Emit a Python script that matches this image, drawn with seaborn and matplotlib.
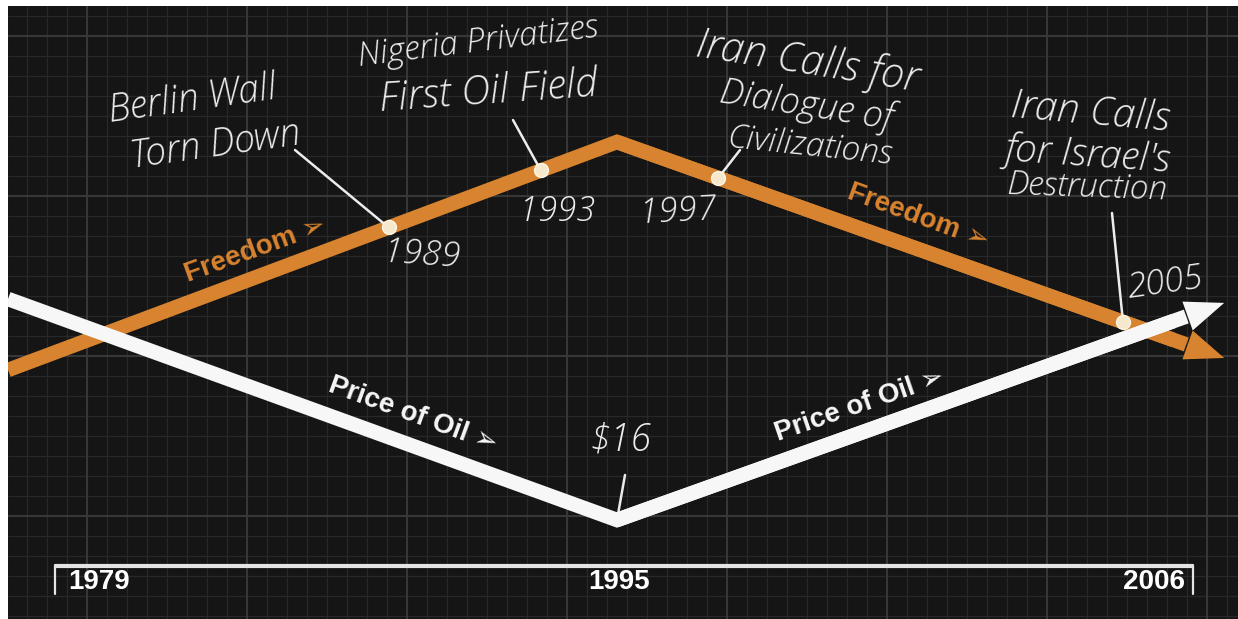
import numpy as np
import pandas as pd
import seaborn as sns
import matplotlib.pyplot as plt
from matplotlib import font_manager

# ---- data ----
years = [1979, 1995, 2006]
oil_price = [32.0, 9.9, 29.8]     # relative level, bottom = $16 in 1995
freedom = [24.9, 47.7, 27.9]      # relative level

event_years = [1989, 1993, 1997, 2005]
event_labels = [
    ["Berlin Wall", "Torn Down"],
    ["Nigeria Privatizes", "First Oil Field"],
    ["Iran Calls for", "Dialogue of", "Civilizations"],
    ["Iran Calls", "for Israel's", "Destruction"],
]
timeline_labels = ["1979", "1995", "2006"]
oil_low_label = "$16"

# ---- style ----
BG = "#151515"
ORANGE = "#d8832f"
WHITE = "#f7f7f7"
CHALK = "#ececec"

sns.set_style("dark")
avail = {f.name for f in font_manager.fontManager.ttflist}


def pick(*names):
    for n in names:
        if n in avail:
            return n
    return "DejaVu Sans"


HAND = pick("Open Sans", "Lato", "DejaVu Sans")
BOLD = pick("Liberation Sans", "DejaVu Sans")
plt.rcParams["font.family"] = [BOLD, "DejaVu Sans"]

# the timeline is drawn out of scale: left of 1995 and right of 1995 use different rates
L_RATE, R_RATE = 38.06, 50.6


def fwd(x):
    x = np.asarray(x, dtype=float)
    return np.where(x <= 1995, (x - 1995) * L_RATE, (x - 1995) * R_RATE)


def inv(p):
    p = np.asarray(p, dtype=float)
    return np.where(p <= 0, 1995 + p / L_RATE, 1995 + p / R_RATE)


W, H = 1238, 619
fig = plt.figure(figsize=(W / 100, H / 100), dpi=100, facecolor="white")
rect = [8 / W, 0, (W - 8) / W, (H - 6) / H]

# background grid, in pixel units
bg = fig.add_axes(rect)
bg.set_xlim(8, W)
bg.set_ylim(H, 6)
bg.set_facecolor(BG)
bg.vlines(np.arange(7, W, 20), 6, H, color="#282828", lw=0.9)
bg.hlines(np.arange(16, H, 20), 8, W, color="#282828", lw=0.9)
bg.vlines(np.arange(87, W, 160), 6, H, color="#383838", lw=1.4)
bg.hlines(np.arange(36, H, 160), 8, W, color="#383838", lw=1.4)
bg.set_xticks([])
bg.set_yticks([])
bg.grid(False)
for s in bg.spines.values():
    s.set_visible(False)

ax = fig.add_axes(rect)
ax.patch.set_alpha(0)
ax.set_xscale("function", functions=(fwd, inv))
ax.set_xlim(1979, float(inv(W - 617)))
ax.set_ylim(0, (H - 6) / 10)
ax.set_axis_off()

df = pd.DataFrame({
    "year": years * 2,
    "value": freedom + oil_price,
    "series": ["Freedom"] * 3 + ["Price of Oil"] * 3,
})
for name, color, z in [("Freedom", ORANGE, 3), ("Price of Oil", WHITE, 5)]:
    sub = df[df.series == name]
    sns.lineplot(data=sub, x="year", y="value", ax=ax, color=color, lw=10.5,
                 sort=False, solid_joinstyle="miter", solid_capstyle="butt",
                 zorder=z, legend=False)
    # arrow head continuing the last segment by one year
    x0, x1 = sub.year.iloc[-2], sub.year.iloc[-1]
    y0, y1 = sub.value.iloc[-2], sub.value.iloc[-1]
    slope = (y1 - y0) / (x1 - x0)
    tip = (x1 + 1.0, y1 + slope)
    base = (x1 + 0.25, y1 + 0.25 * slope)
    ax.plot([x0, base[0]], [y0, base[1]], color=color, lw=10.5,
            solid_capstyle="butt", zorder=z)
    ax.annotate("", xy=tip, xytext=base,
                arrowprops=dict(arrowstyle="-|>,head_length=2.8,head_width=1.1",
                                mutation_scale=10, color=color, lw=0,
                                shrinkA=0, shrinkB=0), zorder=z)

# event markers on the freedom line
ev_y = np.interp(event_years, years, freedom)
sns.scatterplot(x=event_years, y=ev_y, ax=ax, s=100, color="#f6e8cc",
                edgecolor="#fff6e6", linewidth=1, zorder=4, legend=False)

px = bg.transData
hand = dict(color=CHALK, family=[HAND, "DejaVu Sans"], style="italic",
            weight="light", ha="center", va="center", transform=px, zorder=6)

# handwritten notes: (centres in px, rotations, font sizes, leader start)
note_layout = [
    ([(192, 100), (215, 146)], [8, 8], [27, 27], (295, 150)),
    ([(478, 43), (488, 92)], [7, 4], [24, 29], (513, 120)),
    ([(808, 62), (806, 105), (810, 147)], [-9, -9, -6], [30, 26, 24], (740, 150)),
    ([(1090, 113), (1088, 155), (1087, 188)], [-5, -4, -2], [29, 28, 24], (1112, 213)),
]
for lines, yr, yv, (pos, rots, sizes, lead) in zip(event_labels, event_years, ev_y, note_layout):
    for t, p, r, fs in zip(lines, pos, rots, sizes):
        ax.text(p[0], p[1], t, fontsize=fs, rotation=r, **hand)
    ax.annotate("", xy=(yr, yv), xytext=lead, textcoords=px,
                arrowprops=dict(arrowstyle="-", color=CHALK, lw=1.8,
                                shrinkA=0, shrinkB=0), zorder=3.5)

year_pos = [(422, 255, -4), (557, 212, 0), (678, 212, 3), (1165, 283, 8)]
for yr, (x, y, r) in zip(event_years, year_pos):
    ax.text(x, y, str(yr), fontsize=25, rotation=r, **hand)

ax.text(620, 440, oil_low_label, fontsize=27, **hand)
ax.annotate("", xy=(years[1], oil_price[1]), xytext=(625, 475), textcoords=px,
            arrowprops=dict(arrowstyle="-", color=CHALK, lw=1.8,
                            shrinkA=0, shrinkB=0), zorder=4)

# series labels riding on the lines
bold = dict(fontsize=20, weight="bold", ha="center", va="center",
            transform=px, zorder=6, family=[BOLD, "DejaVu Sans"])
ax.text(255, 250, "Freedom \u27a2", color=ORANGE, rotation=20, **bold)
ax.text(918, 217, "Freedom \u27a2", color=ORANGE, rotation=-20, **bold)
ax.text(413, 415, "Price of Oil \u27a2", color=WHITE, rotation=-20, **bold)
ax.text(860, 405, "Price of Oil \u27a2", color=WHITE, rotation=19, **bold)

# timeline bar
bg.plot([55, 1193], [566, 566], color="#e4e4e4", lw=3, solid_capstyle="butt")
bg.plot([55, 55], [565, 594], color="#e4e4e4", lw=1.6)
bg.plot([1193, 1193], [565, 594], color="#e4e4e4", lw=1.6)
tl = dict(fontsize=20, weight="bold", color="white", va="center",
          family=[BOLD, "DejaVu Sans"])
bg.text(68, 582, timeline_labels[0], ha="left", **tl)
bg.text(619, 582, timeline_labels[1], ha="center", **tl)
bg.text(1185, 582, timeline_labels[2], ha="right", **tl)

fig.savefig("out.png", dpi=100, facecolor="white")
